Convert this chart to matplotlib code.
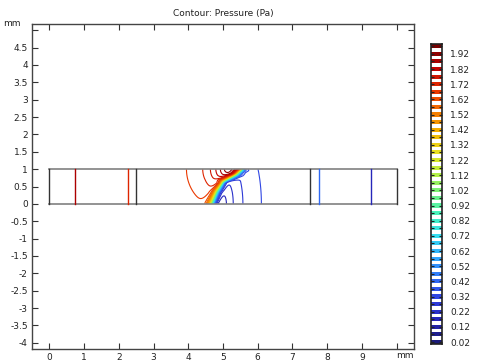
import numpy as np
import matplotlib
matplotlib.use('Agg')
import matplotlib.pyplot as plt
from matplotlib.colors import LinearSegmentedColormap, Normalize

# contour levels of the pressure (Pa) and the labelled ones in the legend
levels = np.round(0.02 + 0.05 * np.arange(40), 2)
label_levels = np.round(0.02 + 0.1 * np.arange(20), 2)

# channel geometry (mm)
channel_x = [0.0, 10.0]
channel_y = [0.0, 1.0]
wall_x = [0.0, 2.5, 7.5, 10.0]
inner_x = [0.75, 2.25, 7.75, 9.25]
inner_p = [1.87, 1.72, 0.42, 0.17]

# interface centre line and its band half width
iface_y = [0.0, 0.35, 0.65, 0.85, 1.0]
iface_x = [4.68, 4.82, 5.0, 5.38, 5.55]
iface_w = [0.12, 0.10, 0.07, 0.07, 0.075]

# pressure on both sides of the interface
p_high = 1.97
p_low = 0.02
drop_left = 0.32
rise_right = 0.335
centre_left = (5.15, 1.0)
centre_right = (4.75, 0.0)

cmap_colors = ['#1a1a7a', '#2626b8', '#2f3fe0', '#3070f5', '#30a8ff', '#35dcf0',
               '#45f2c0', '#70f080', '#b8f040', '#e8e020', '#f5b000', '#f57000',
               '#e83000', '#c00000', '#7a0000']
cmap = LinearSegmentedColormap.from_list('rainbow_c', cmap_colors)
norm = Normalize(vmin=levels[0], vmax=levels[-1])

# field inside the channel
xg = np.linspace(channel_x[0], channel_x[1], 1201)
yg = np.linspace(channel_y[0], channel_y[1], 241)
xc = np.interp(yg, iface_y, iface_x)
kern = np.ones(21) / 21
xc = np.convolve(np.pad(xc, 10, mode='edge'), kern, mode='valid')
slope = np.gradient(xc, yg)
wn = np.interp(yg, iface_y, iface_w) * np.sqrt(1 + slope ** 2)
X, Y = np.meshgrid(xg, yg)
wl = 0.5 * (1 - np.tanh((X - xc[:, None]) / wn[:, None]))
dA = np.hypot(X - centre_left[0], Y - centre_left[1])
dB = np.hypot(X - centre_right[0], (Y - centre_right[1]) * 0.5)
pl = p_high - drop_left * np.tanh(dA / 0.7)
pr = p_low + rise_right * (1 - np.exp(-dB / 0.6))
P = wl * pl + (1 - wl) * pr

fig = plt.figure(figsize=(4.82, 3.63), dpi=100)
ax = fig.add_axes([32 / 482, 14 / 363, 382 / 482, 325 / 363])

ax.contour(X, Y, P, levels=levels, cmap=cmap, norm=norm, linewidths=0.8)

# channel outline
ax.plot(channel_x, [0, 0], color='#808080', lw=1.2)
ax.plot(channel_x, [1, 1], color='#808080', lw=1.2)
for xv in wall_x:
    ax.plot([xv, xv], channel_y, color='#333333', lw=1.0)
for xv, pv in zip(inner_x, inner_p):
    ax.plot([xv, xv], channel_y, color=cmap(norm(pv)), lw=1.0)

ax.set_xlim(-0.5, 10.5)
ax.set_ylim(-4.18, 5.18)
ax.set_xticks(np.arange(0, 11))
ax.set_xticklabels([str(i) for i in range(10)] + [''])
yt = np.arange(-4, 5.01, 0.5)
ax.set_yticks(yt)
ax.set_yticklabels([('%g' % v) for v in yt[:-1]] + [''])
ax.tick_params(direction='in', top=True, right=True, length=4, width=0.8,
               labelsize=6.5, colors='#333333', labelcolor='#222222', pad=3)
for sp in ax.spines.values():
    sp.set_color('#444444')
    sp.set_linewidth(1.0)
ax.set_title('Contour: Pressure (Pa)', fontsize=6.5, pad=6, color='#222222')
fig.text(3 / 482, 1 - 24 / 363, 'mm', fontsize=6.5, va='center', color='#222222')
fig.text(405 / 482, 1 - 355 / 363, 'mm', fontsize=6.5, ha='center', va='center',
         color='#222222')

# legend bar
cax = fig.add_axes([431 / 482, 19 / 363, 11 / 482, 300 / 363])
for lv in levels:
    cax.axhspan(lv - 0.0135, lv + 0.0135, color=cmap(norm(lv)), lw=0)
cax.set_ylim(0.007, 1.985)
cax.set_xlim(0, 1)
cax.set_xticks([])
cax.yaxis.tick_right()
cax.set_yticks(label_levels)
cax.set_yticklabels(['%.2f' % v for v in label_levels])
cax.set_yticks(levels, minor=True)
cax.tick_params(axis='y', which='both', direction='in', left=True, right=True,
                length=2.5, width=0.8, colors='#222222', labelsize=6.5, pad=6)
for sp in cax.spines.values():
    sp.set_color('#222222')
    sp.set_linewidth(1.2)

fig.savefig('out.png', dpi=100)
